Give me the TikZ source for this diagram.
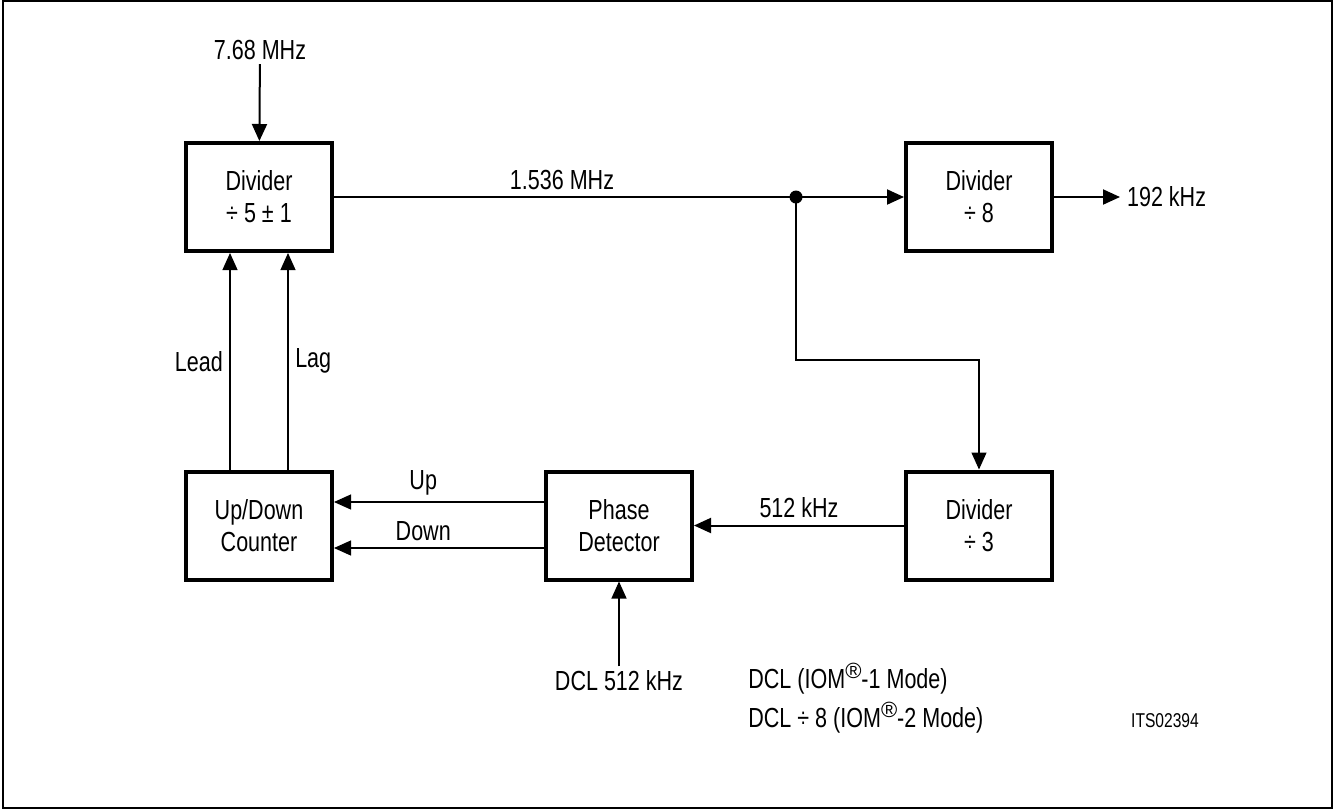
\documentclass[tikz,border=0pt]{standalone}
\usepackage{fontspec}
\setmainfont[FakeStretch=0.78]{Liberation Sans}
\newfontfamily\regfont{Liberation Sans}
\newcommand{\regmark}{\raisebox{5pt}{\regfont\fontsize{11}{11}\selectfont\textregistered}}
\usetikzlibrary{positioning, arrows.meta}

\begin{document}
\begin{tikzpicture}[
			x=0.5pt, y=-0.5pt, font=\fontsize{13.8}{16}\selectfont,
			>={Triangle[length=8.5pt, width=7.5pt]},
			block/.style={draw, line width=2pt, minimum width=73pt, minimum height=54pt, align=center, inner sep=0pt},
			sig/.style={line width=1pt},
			thin sig/.style={line width=0.6pt}
			]
			\useasboundingbox (0,0) rectangle (1334,810);
			\draw[line width=1pt] (3,1) rectangle (1332,808);
			\node[block] (d_5) at (259,197) {Divider\\÷ 5 ± 1};
			\node[block] (d_8) at (979,197) {Divider\\÷ 8};
			\node[block] (d_3) at (979,525.5) {Divider\\÷ 3};
			\node[block] (p_d) at (619,525.5) {Phase\\Detector};
			\node[block] (c_ud) at (259,525.5) {Up/Down\\Counter};
			\node[inner sep=2pt] (f_in) at (260,50) {7.68 MHz};
			\node[anchor=west] (f_out) at (1120,197) {192 kHz};
			\node[inner sep=2pt] (dcl) at (619,681) {DCL 512 kHz};
			\node[anchor=base west, inner sep=0pt] (m_1) at (748,688) {DCL (IOM\regmark-1 Mode)};
			\node[anchor=base west, inner sep=0pt] (m_2) at (748,727) {DCL ÷ 8 (IOM\regmark-2 Mode)};
			\node[font=\fontsize{10}{12}\selectfont] (its) at (1165,721) {ITS02394};
			\coordinate (j) at (796,197);
			\coordinate (k) at (796,360);
			\fill (j) circle (3.25pt);
			\path[->, sig]
			(f_in) edge (d_5)
			(d_5) edge node [above, pos=0.4] {1.536 MHz} (d_8)
			(d_8) edge (f_out)
			(d_3) edge node [above] {512 kHz} (p_d);
			\path[->, thin sig]
			([xshift=-14.5pt]c_ud.north) edge node [left] {Lead} ([xshift=-14.5pt]d_5.south)
			([xshift=14.5pt]c_ud.north) edge node [right] {Lag} ([xshift=14.5pt]d_5.south)
			([yshift=11.75pt]p_d.west) edge node [above, pos=0.575] {Up} ([yshift=11.75pt]c_ud.east)
			([yshift=-11.25pt]p_d.west) edge node [above, pos=0.575] {Down} ([yshift=-11.25pt]c_ud.east)
			(dcl) edge (p_d);
			\draw[->, thin sig] (j) -- (k) -| (d_3);
		\end{tikzpicture}
\end{document}
